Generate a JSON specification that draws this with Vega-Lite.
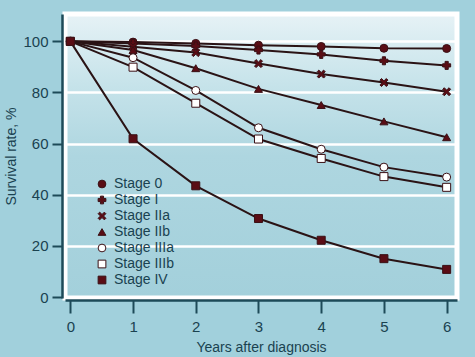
{
  "$schema": "https://vega.github.io/schema/vega-lite/v6.json",
  "width": 392,
  "height": 284,
  "autosize": "none",
  "padding": {"left": 65, "top": 14, "right": 18, "bottom": 59},
  "background": "#a1d0dc",
  "config": {
    "font": "Liberation Sans",
    "view": {
      "stroke": "white",
      "strokeWidth": 5,
      "fill": {"gradient": "linear", "x1": 0, "y1": 0, "x2": 0, "y2": 1,
        "stops": [{"offset": 0, "color": "#e6f2f6"}, {"offset": 0.25, "color": "#c6e3ea"}, {"offset": 0.5, "color": "#aed6e0"}, {"offset": 1, "color": "#a3d0db"}]}
    },
    "axis": {
      "domainColor": "#1d4a58", "domainWidth": 2.5, "tickColor": "#1d4a58", "tickWidth": 2,
      "labelColor": "#1a4250", "titleColor": "#1a4250", "labelFontSize": 15, "titleFontSize": 14,
      "titleFontWeight": "normal", "gridColor": "white", "gridWidth": 2.5, "gridOpacity": 1
    }
  },
  "data": {"values": [
    {"stage": "Stage 0", "year": 0, "rate": 100}, {"stage": "Stage 0", "year": 1, "rate": 99.7}, {"stage": "Stage 0", "year": 2, "rate": 99.2}, {"stage": "Stage 0", "year": 3, "rate": 98.5}, {"stage": "Stage 0", "year": 4, "rate": 98.0}, {"stage": "Stage 0", "year": 5, "rate": 97.3}, {"stage": "Stage 0", "year": 6, "rate": 97.2},
    {"stage": "Stage I", "year": 0, "rate": 100}, {"stage": "Stage I", "year": 1, "rate": 99.2}, {"stage": "Stage I", "year": 2, "rate": 98.2}, {"stage": "Stage I", "year": 3, "rate": 96.6}, {"stage": "Stage I", "year": 4, "rate": 94.9}, {"stage": "Stage I", "year": 5, "rate": 92.4}, {"stage": "Stage I", "year": 6, "rate": 90.6},
    {"stage": "Stage IIa", "year": 0, "rate": 100}, {"stage": "Stage IIa", "year": 1, "rate": 97.9}, {"stage": "Stage IIa", "year": 2, "rate": 95.6}, {"stage": "Stage IIa", "year": 3, "rate": 91.3}, {"stage": "Stage IIa", "year": 4, "rate": 87.2}, {"stage": "Stage IIa", "year": 5, "rate": 83.9}, {"stage": "Stage IIa", "year": 6, "rate": 80.3},
    {"stage": "Stage IIb", "year": 0, "rate": 100}, {"stage": "Stage IIb", "year": 1, "rate": 96.6}, {"stage": "Stage IIb", "year": 2, "rate": 89.5}, {"stage": "Stage IIb", "year": 3, "rate": 81.4}, {"stage": "Stage IIb", "year": 4, "rate": 75.1}, {"stage": "Stage IIb", "year": 5, "rate": 68.7}, {"stage": "Stage IIb", "year": 6, "rate": 62.5},
    {"stage": "Stage IIIa", "year": 0, "rate": 100}, {"stage": "Stage IIIa", "year": 1, "rate": 93.6}, {"stage": "Stage IIIa", "year": 2, "rate": 80.8}, {"stage": "Stage IIIa", "year": 3, "rate": 66.2}, {"stage": "Stage IIIa", "year": 4, "rate": 57.8}, {"stage": "Stage IIIa", "year": 5, "rate": 50.8}, {"stage": "Stage IIIa", "year": 6, "rate": 46.9},
    {"stage": "Stage IIIb", "year": 0, "rate": 100}, {"stage": "Stage IIIb", "year": 1, "rate": 89.9}, {"stage": "Stage IIIb", "year": 2, "rate": 75.8}, {"stage": "Stage IIIb", "year": 3, "rate": 61.8}, {"stage": "Stage IIIb", "year": 4, "rate": 54.2}, {"stage": "Stage IIIb", "year": 5, "rate": 47.1}, {"stage": "Stage IIIb", "year": 6, "rate": 42.9},
    {"stage": "Stage IV", "year": 0, "rate": 100}, {"stage": "Stage IV", "year": 1, "rate": 61.9}, {"stage": "Stage IV", "year": 2, "rate": 43.5}, {"stage": "Stage IV", "year": 3, "rate": 30.7}, {"stage": "Stage IV", "year": 4, "rate": 22.2}, {"stage": "Stage IV", "year": 5, "rate": 15.0}, {"stage": "Stage IV", "year": 6, "rate": 10.8}
  ]},
  "encoding": {
    "x": {"field": "year", "type": "quantitative",
      "scale": {"domain": [-0.085, 6.165], "nice": false, "zero": false},
      "axis": {"values": [0, 1, 2, 3, 4, 5, 6], "grid": false, "offset": 2, "tickSize": 13, "labelPadding": 6, "title": "Years after diagnosis", "titlePadding": 6}},
    "y": {"field": "rate", "type": "quantitative",
      "scale": {"domain": [-0.385, 110.7], "nice": false, "zero": false},
      "axis": {"values": [0, 20, 40, 60, 80, 100], "grid": true, "offset": 3, "tickSize": 10, "labelPadding": 4, "title": "Survival rate, %", "titlePadding": 4}}
  },
  "layer": [
    {"mark": {"type": "line", "color": "#2a1315", "strokeWidth": 2}, "encoding": {"detail": {"field": "stage"}}},
    {"mark": {"type": "point", "filled": true, "size": 64, "stroke": "#3a1015", "strokeWidth": 1, "opacity": 1},
      "encoding": {
        "shape": {"field": "stage", "type": "nominal",
          "scale": {"domain": ["Stage 0", "Stage I", "Stage IIa", "Stage IIb", "Stage IIIa", "Stage IIIb", "Stage IV"],
            "range": ["circle", "cross", "M-1,-0.6L-0.6,-1L0,-0.4L0.6,-1L1,-0.6L0.4,0L1,0.6L0.6,1L0,0.4L-0.6,1L-1,0.6L-0.4,0Z", "triangle-up", "circle", "square", "square"]},
          "legend": {"title": null, "orient": "none", "legendX": 30, "legendY": 163, "labelFontSize": 14, "labelColor": "#1a4250", "symbolSize": 60, "rowPadding": 2, "labelOffset": 5, "symbolStrokeWidth": 1}},
        "fill": {"field": "stage", "type": "nominal",
          "scale": {"domain": ["Stage 0", "Stage I", "Stage IIa", "Stage IIb", "Stage IIIa", "Stage IIIb", "Stage IV"],
            "range": ["#5a0d15", "#5a0d15", "#5a0d15", "#5a0d15", "white", "white", "#5a0d15"]},
          "legend": {"title": null}}
      }}
  ]
}
